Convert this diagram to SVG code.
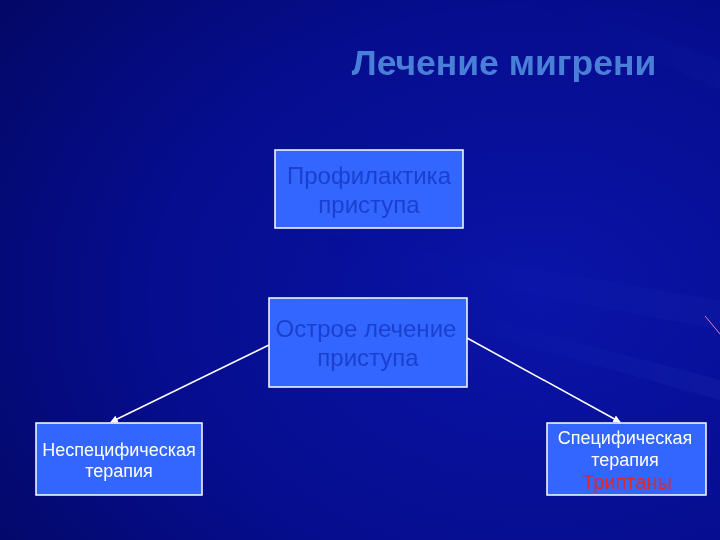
<svg xmlns="http://www.w3.org/2000/svg" width="720" height="540" viewBox="0 0 720 540">
<defs>
<radialGradient id="bg" cx="0.75" cy="0.55" r="0.9">
<stop offset="0" stop-color="#0A14A8"/>
<stop offset="0.6" stop-color="#060D8E"/>
<stop offset="1" stop-color="#030868"/>
</radialGradient>
<linearGradient id="ray" x1="0" y1="0" x2="1" y2="0">
<stop offset="0" stop-color="#4A6CFF" stop-opacity="0"/>
<stop offset="1" stop-color="#6A8CFF" stop-opacity="0.35"/>
</linearGradient>
<marker id="ah" viewBox="0 0 10 10" refX="9" refY="5" markerWidth="5" markerHeight="5" orient="auto">
<path d="M0,0 L10,5 L0,10 z" fill="#FFFFFF"/>
</marker>
<style>
.box{fill:#3366FF;stroke:#FFFFFF;stroke-width:1.5}
.dark{font-family:"Liberation Sans",Arial,sans-serif;font-size:24px;fill:#1A40D0;text-anchor:middle}
.white{font-family:"Liberation Sans",Arial,sans-serif;font-size:18px;fill:#FFFFFF;text-anchor:middle}
.conn{stroke:#FFFFFF;stroke-width:1.5;fill:none}
</style>
</defs>
<rect width="720" height="540" fill="url(#bg)"/>
<g opacity="0.5">
<path d="M720,300 L300,230 L300,250 L720,330 z" fill="url(#ray)" opacity="0.25"/>
<path d="M720,380 L380,290 L380,305 L720,400 z" fill="url(#ray)" opacity="0.35"/>
<path d="M720,90 L520,0 L560,0 L720,60 z" fill="url(#ray)" opacity="0.2"/>
</g>
<line x1="705" y1="316" x2="720" y2="334" stroke="#E080C0" stroke-width="1"/>
<text x="504" y="75" font-family="Liberation Sans,Arial,sans-serif" font-size="35.5" font-weight="bold" fill="#4A7FD8" text-anchor="middle">Лечение мигрени</text>
<g id="connectors">
<line class="conn" x1="269" y1="345" x2="111" y2="422" marker-end="url(#ah)"/>
<line class="conn" x1="467" y1="338" x2="620" y2="422" marker-end="url(#ah)"/>
</g>
<g id="node-prof">
<rect class="box" x="275" y="150" width="188" height="78"/>
<text class="dark" x="369" y="184">Профилактика</text>
<text class="dark" x="369" y="213">приступа</text>
</g>
<g id="node-acute">
<rect class="box" x="269" y="298" width="198" height="89"/>
<text class="dark" x="366" y="337">Острое лечение</text>
<text class="dark" x="368" y="366">приступа</text>
</g>
<g id="node-nonspec">
<rect class="box" x="36" y="423" width="166" height="72"/>
<text class="white" x="119" y="456">Неспецифическая</text>
<text class="white" x="119" y="477">терапия</text>
</g>
<g id="node-spec">
<rect class="box" x="547" y="423" width="159" height="72"/>
<text class="white" x="625" y="444">Специфическая</text>
<text class="white" x="625" y="466">терапия</text>
<text class="white" x="627" y="489" style="fill:#E02828;font-size:20px">Триптаны</text>
</g>
</svg>
